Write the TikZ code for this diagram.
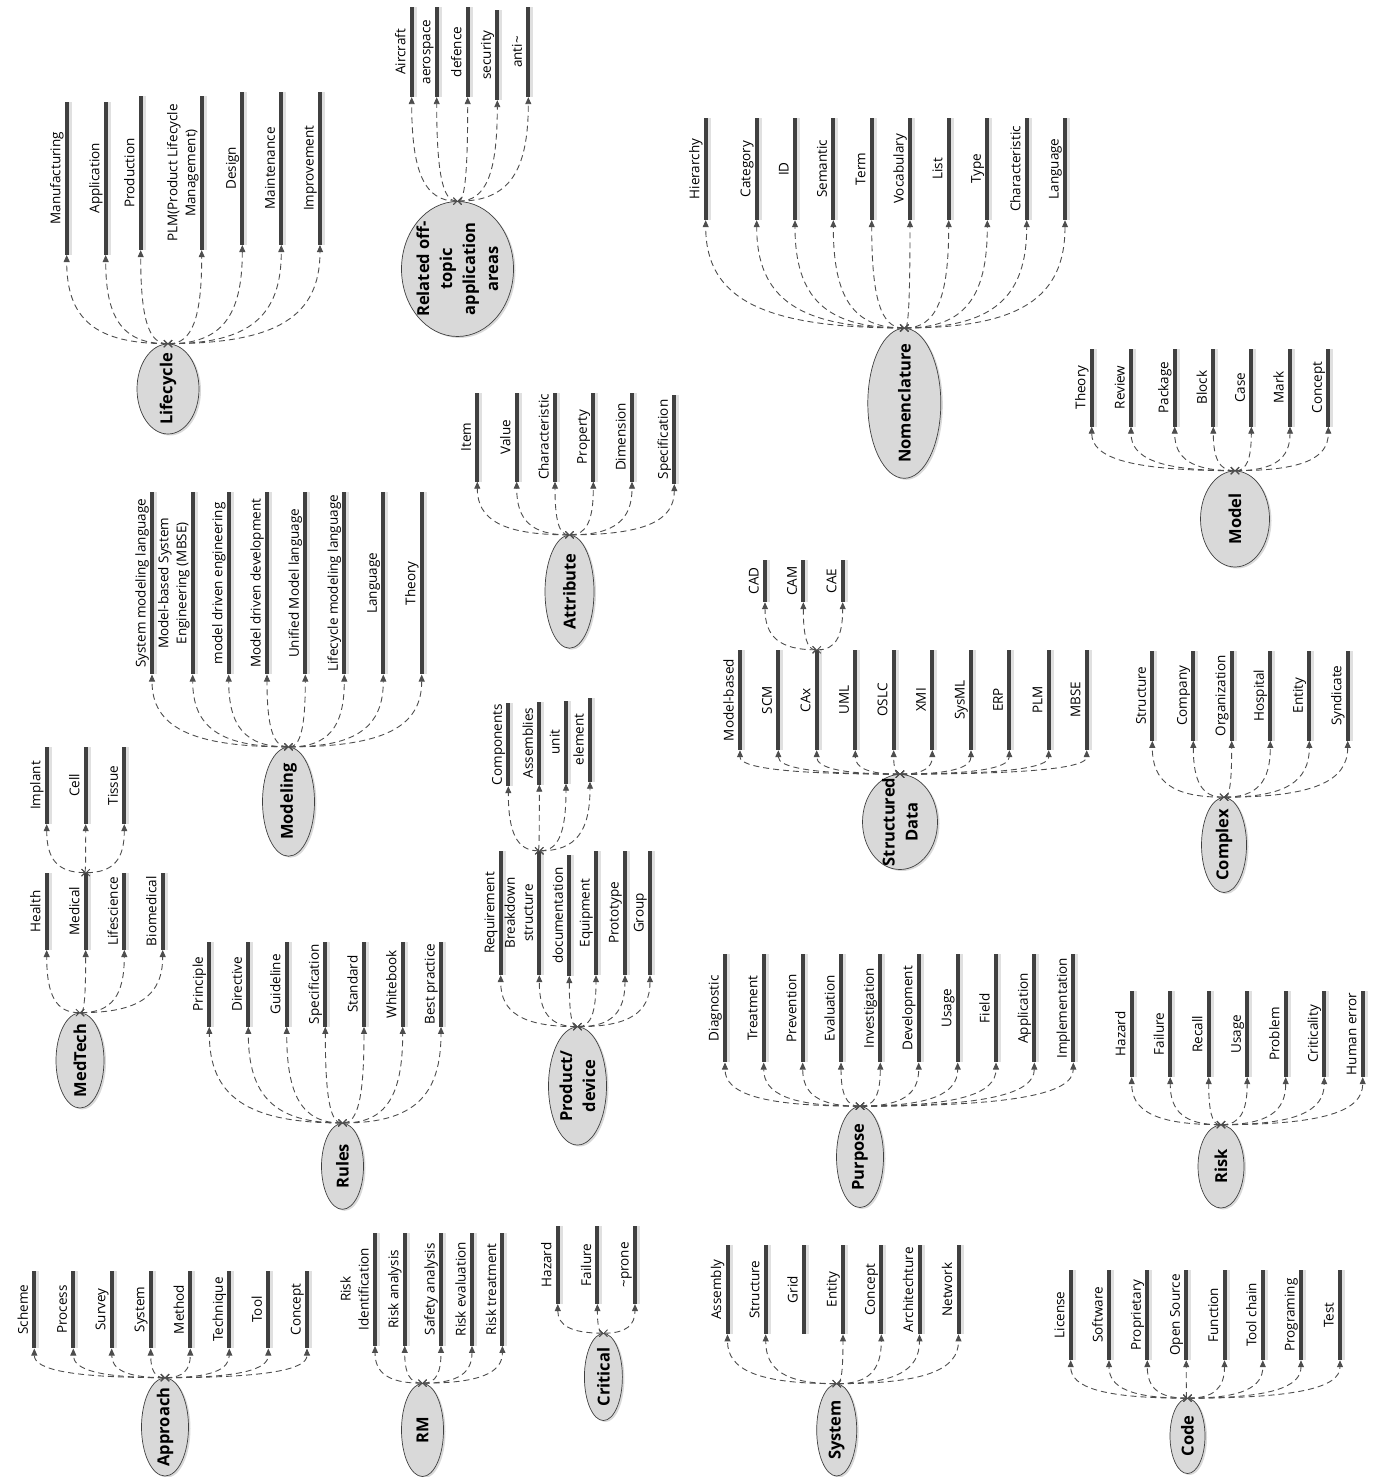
\documentclass[tikz,border=0pt]{standalone}
\usepackage{fontspec}
\setmainfont{Open Sans}
\usetikzlibrary{arrows.meta,shapes.geometric,shadows,calc}
\definecolor{barc}{HTML}{404040}
\definecolor{linec}{HTML}{4D4D4D}
\definecolor{hubfill}{HTML}{D9D9D9}
\tikzset{
  bar/.style={rectangle, fill=barc, minimum width=4pt, inner sep=0pt,
    general shadow={shadow xshift=3pt, fill=black!12}},
  lbl/.style={rotate=90, anchor=south, inner sep=1pt, text depth=3pt, align=center,
    font=\fontsize{13.5}{18}\selectfont},
  hub/.style={ellipse, draw=barc, line width=0.7pt, fill=hubfill, inner sep=0pt,
    general shadow={shadow xshift=2pt, shadow yshift=-1.5pt, fill=black!15}},
  hubtxt/.style={rotate=90, align=center, inner sep=0pt,
    font=\fontsize{16.5}{23}\selectfont\bfseries},
  conn/.style={draw=linec, line width=0.9pt, dash pattern=on 6pt off 4pt,
    {Straight Barb[length=3.5pt,width=7pt]}-{Triangle[length=7pt,width=6pt]}},
  fan/.style={to path={.. controls ($(\tikztostart)!.72!(\tikztostart -| \tikztotarget)$) and ($(\tikztotarget)!.72!(\tikztostart -| \tikztotarget)$) .. (\tikztotarget)}}
}
\begin{document}
\begin{tikzpicture}[x=1pt, y=-1pt]
\useasboundingbox (0,0) rectangle (1375,1477);
% Lifecycle
\node[hub, minimum width=62, minimum height=90, label={[hubtxt]center:Lifecycle}] (lc) at (168,389) {};
\node[bar, minimum height=153, label={[lbl]left:Manufacturing}] (lc-1) at (66.7,178.3) {};
\node[bar, minimum height=153, label={[lbl]left:Application}] (lc-2) at (105.7,178.3) {};
\node[bar, minimum height=154, label={[lbl]left:Production}] (lc-3) at (140.7,173) {};
\node[bar, minimum height=154, label={[lbl]left:{PLM(Product Lifecycle\\Management)}}] (lc-4) at (201.7,173) {};
\node[bar, minimum height=153, label={[lbl]left:Design}] (lc-5) at (242.3,168.3) {};
\node[bar, minimum height=153, label={[lbl]left:Maintenance}] (lc-6) at (281.3,168.3) {};
\node[bar, minimum height=153, label={[lbl]left:Improvement}] (lc-7) at (320,168.3) {};
\foreach \i in {1,...,7} \draw[conn] (lc.north) to[fan] (lc-\i.south);
% Related off-topic application areas
\node[hub, minimum width=112, minimum height=135, label={[hubtxt]center:{Related off-\\topic\\application\\areas}}] (ra) at (457.5,269) {};
\node[bar, minimum height=90, label={[lbl]left:Aircraft}] (ra-1) at (411.7,52) {};
\node[bar, minimum height=90, label={[lbl]left:aerospace}] (ra-2) at (436.7,52) {};
\node[bar, minimum height=90, label={[lbl]left:defence}] (ra-3) at (467.7,52) {};
\node[bar, minimum height=90, label={[lbl]left:security}] (ra-4) at (497.3,55) {};
\node[bar, minimum height=90, label={[lbl]left:anti\textasciitilde}] (ra-5) at (528.3,52) {};
\foreach \i in {1,...,5} \draw[conn] (ra.north) to[fan] (ra-\i.south);
% Nomenclature
\node[hub, minimum width=73, minimum height=150, label={[hubtxt]center:Nomenclature}] (nm) at (904.3,403.3) {};
\node[bar, minimum height=102, label={[lbl]left:Hierarchy}] (nm-1) at (705.7,169) {};
\node[bar, minimum height=102, label={[lbl]left:Category}] (nm-2) at (756.7,169) {};
\node[bar, minimum height=102, label={[lbl]left:ID}] (nm-3) at (795,169) {};
\node[bar, minimum height=102, label={[lbl]left:Semantic}] (nm-4) at (833.3,169) {};
\node[bar, minimum height=102, label={[lbl]left:Term}] (nm-5) at (871.7,169) {};
\node[bar, minimum height=102, label={[lbl]left:Vocabulary}] (nm-6) at (910,169) {};
\node[bar, minimum height=102, label={[lbl]left:List}] (nm-7) at (948.7,169) {};
\node[bar, minimum height=102, label={[lbl]left:Type}] (nm-8) at (987.3,169) {};
\node[bar, minimum height=102, label={[lbl]left:Characteristic}] (nm-9) at (1026.7,169) {};
\node[bar, minimum height=102, label={[lbl]left:Language}] (nm-10) at (1065,169) {};
\foreach \i in {1,...,10} \draw[conn] (nm.north) to[fan] (nm-\i.south);
% Model
\node[hub, minimum width=69, minimum height=96, label={[hubtxt]center:Model}] (mo) at (1235,519) {};
\node[bar, minimum height=78, label={[lbl]left:Theory}] (mo-1) at (1091.7,387.5) {};
\node[bar, minimum height=78, label={[lbl]left:Review}] (mo-2) at (1131,387.5) {};
\node[bar, minimum height=78, label={[lbl]left:Package}] (mo-3) at (1174.7,387.5) {};
\node[bar, minimum height=78, label={[lbl]left:Block}] (mo-4) at (1213.3,387.5) {};
\node[bar, minimum height=78, label={[lbl]left:Case}] (mo-5) at (1251.3,387.5) {};
\node[bar, minimum height=78, label={[lbl]left:Mark}] (mo-6) at (1290,387.5) {};
\node[bar, minimum height=78, label={[lbl]left:Concept}] (mo-7) at (1328.3,387.5) {};
\foreach \i in {1,...,7} \draw[conn] (mo.north) to[fan] (mo-\i.south);
% Attribute
\node[hub, minimum width=49, minimum height=113, label={[hubtxt]center:Attribute}] (at) at (569.5,591.7) {};
\node[bar, minimum height=89, label={[lbl]left:Item}] (at-1) at (477.3,437) {};
\node[bar, minimum height=89, label={[lbl]left:Value}] (at-2) at (516.7,437) {};
\node[bar, minimum height=89, label={[lbl]left:Characteristic}] (at-3) at (555,437) {};
\node[bar, minimum height=89, label={[lbl]left:Property}] (at-4) at (593.3,437) {};
\node[bar, minimum height=89, label={[lbl]left:Dimension}] (at-5) at (632,437) {};
\node[bar, minimum height=89, label={[lbl]left:Specification}] (at-6) at (674.3,439.5) {};
\foreach \i in {1,...,6} \draw[conn] (at.north) to[fan] (at-\i.south);
% Modeling
\node[hub, minimum width=52, minimum height=109, label={[hubtxt]center:Modeling}] (mg) at (288.5,801.7) {};
\node[bar, minimum height=182, label={[lbl]left:System modeling language}] (mg-1) at (152,583.3) {};
\node[bar, minimum height=182, label={[lbl]left:{Model-based System\\Engineering (MBSE)}}] (mg-2) at (192.7,583.3) {};
\node[bar, minimum height=182, label={[lbl]left:model driven engineering}] (mg-3) at (228.7,583.3) {};
\node[bar, minimum height=182, label={[lbl]left:Model driven development}] (mg-4) at (267,583.3) {};
\node[bar, minimum height=182, label={[lbl]left:Unified Model language}] (mg-5) at (305.3,583.3) {};
\node[bar, minimum height=182, label={[lbl]left:Lifecycle modeling language}] (mg-6) at (344.3,583.3) {};
\node[bar, minimum height=182, label={[lbl]left:Language}] (mg-7) at (383.3,583.3) {};
\node[bar, minimum height=182, label={[lbl]left:Theory}] (mg-8) at (421.7,583.3) {};
\foreach \i in {1,...,8} \draw[conn] (mg.north) to[fan] (mg-\i.south);
% MedTech
\node[hub, minimum width=48, minimum height=95, label={[hubtxt]center:MedTech}] (md) at (80,1060.5) {};
\node[bar, minimum height=77, label={[lbl]left:Health}] (md-1) at (46.7,911.3) {};
\node[bar, minimum height=77, label={[lbl]left:Medical}] (md-2) at (85.7,911.3) {};
\node[bar, minimum height=77, label={[lbl]left:Lifescience}] (md-3) at (124.3,911.3) {};
\node[bar, minimum height=77, label={[lbl]left:Biomedical}] (md-4) at (162.7,911.3) {};
\foreach \i in {1,...,4} \draw[conn] (md.north) to[fan] (md-\i.south);
\node[bar, minimum height=77, label={[lbl]left:Implant}] (mi-1) at (46.7,785.5) {};
\node[bar, minimum height=77, label={[lbl]left:Cell}] (mi-2) at (85.7,785.5) {};
\node[bar, minimum height=77, label={[lbl]left:Tissue}] (mi-3) at (124.3,785.5) {};
\foreach \i in {1,...,3} \draw[conn] (md-2.north) to[fan] (mi-\i.south);
% Rules
\node[hub, minimum width=42, minimum height=86, label={[hubtxt]center:Rules}] (ru) at (342.5,1166.3) {};
\node[bar, minimum height=85, label={[lbl]left:Principle}] (ru-1) at (209.3,984.2) {};
\node[bar, minimum height=85, label={[lbl]left:Directive}] (ru-2) at (248.3,984.2) {};
\node[bar, minimum height=85, label={[lbl]left:Guideline}] (ru-3) at (286.7,984.2) {};
\node[bar, minimum height=85, label={[lbl]left:Specification}] (ru-4) at (325.3,984.2) {};
\node[bar, minimum height=85, label={[lbl]left:Standard}] (ru-5) at (364,984.2) {};
\node[bar, minimum height=85, label={[lbl]left:Whitebook}] (ru-6) at (402.7,984.2) {};
\node[bar, minimum height=85, label={[lbl]left:Best practice}] (ru-7) at (441,984.2) {};
\foreach \i in {1,...,7} \draw[conn] (ru.north) to[fan] (ru-\i.south);
% Product/device
\node[hub, minimum width=58, minimum height=118, label={[hubtxt]center:{Product/\\device}}] (pd) at (577.5,1086) {};
\node[bar, minimum height=124, label={[lbl]left:Requirement}] (pd-1) at (500.7,913) {};
\node[bar, minimum height=124, label={[lbl]left:{Breakdown\\structure}}] (pd-2) at (539.3,913) {};
\node[bar, minimum height=121, label={[lbl]left:documentation}] (pd-3) at (569.3,915.5) {};
\node[bar, minimum height=124, label={[lbl]left:Equipment}] (pd-4) at (596,913) {};
\node[bar, minimum height=124, label={[lbl]left:Prototype}] (pd-5) at (625,913) {};
\node[bar, minimum height=124, label={[lbl]left:Group}] (pd-6) at (650,913) {};
\foreach \i in {1,...,6} \draw[conn] (pd.north) to[fan] (pd-\i.south);
\node[bar, minimum height=83, label={[lbl]left:Components}] (pc-1) at (508.3,744.5) {};
\node[bar, minimum height=83, label={[lbl]left:Assemblies}] (pc-2) at (539.3,743) {};
\node[bar, minimum height=83, label={[lbl]left:unit}] (pc-3) at (566,742) {};
\node[bar, minimum height=84, label={[lbl]left:element}] (pc-4) at (590,739.5) {};
\foreach \i in {1,...,4} \draw[conn] (pd-2.north) to[fan] (pc-\i.south);
% Structured Data
\node[hub, minimum width=75, minimum height=95, label={[hubtxt]center:{Structured\\Data}}] (sd) at (900,822) {};
\node[bar, minimum height=100, label={[lbl]left:Model-based}] (sd-1) at (740,700) {};
\node[bar, minimum height=100, label={[lbl]left:SCM}] (sd-2) at (778.3,700) {};
\node[bar, minimum height=100, label={[lbl]left:CAx}] (sd-3) at (816.7,700) {};
\node[bar, minimum height=100, label={[lbl]left:UML}] (sd-4) at (855.3,700) {};
\node[bar, minimum height=100, label={[lbl]left:OSLC}] (sd-5) at (893.7,700) {};
\node[bar, minimum height=100, label={[lbl]left:XMI}] (sd-6) at (932.3,700) {};
\node[bar, minimum height=100, label={[lbl]left:SysML}] (sd-7) at (971,700) {};
\node[bar, minimum height=100, label={[lbl]left:ERP}] (sd-8) at (1009.3,700) {};
\node[bar, minimum height=100, label={[lbl]left:PLM}] (sd-9) at (1048.7,700) {};
\node[bar, minimum height=100, label={[lbl]left:MBSE}] (sd-10) at (1086.7,700) {};
\foreach \i in {1,...,10} \draw[conn] (sd.north) to[fan] (sd-\i.south);
\node[bar, minimum height=42, label={[lbl]left:CAD}] (ca-1) at (765,581) {};
\node[bar, minimum height=42, label={[lbl]left:CAM}] (ca-2) at (803.3,581) {};
\node[bar, minimum height=42, label={[lbl]left:CAE}] (ca-3) at (842.7,581) {};
\foreach \i in {1,...,3} \draw[conn] (sd-3.north) to[fan] (ca-\i.south);
% Complex
\node[hub, minimum width=45, minimum height=95, label={[hubtxt]center:Complex}] (cx) at (1224,845) {};
\node[bar, minimum height=90, label={[lbl]left:Structure}] (cx-1) at (1152.3,695.7) {};
\node[bar, minimum height=90, label={[lbl]left:Company}] (cx-2) at (1193.3,695.7) {};
\node[bar, minimum height=90, label={[lbl]left:Organization}] (cx-3) at (1231.7,695.7) {};
\node[bar, minimum height=90, label={[lbl]left:Hospital}] (cx-4) at (1270.3,695.7) {};
\node[bar, minimum height=90, label={[lbl]left:Entity}] (cx-5) at (1309.3,695.7) {};
\node[bar, minimum height=90, label={[lbl]left:Syndicate}] (cx-6) at (1347.7,695.7) {};
\foreach \i in {1,...,6} \draw[conn] (cx.north) to[fan] (cx-\i.south);
% Purpose
\node[hub, minimum width=47, minimum height=101, label={[hubtxt]center:Purpose}] (pu) at (860,1157) {};
\node[bar, minimum height=108, label={[lbl]left:Diagnostic}] (pu-1) at (725,1008.3) {};
\node[bar, minimum height=108, label={[lbl]left:Treatment}] (pu-2) at (763.7,1008.3) {};
\node[bar, minimum height=108, label={[lbl]left:Prevention}] (pu-3) at (802.7,1008.3) {};
\node[bar, minimum height=108, label={[lbl]left:Evaluation}] (pu-4) at (841,1008.3) {};
\node[bar, minimum height=108, label={[lbl]left:Investigation}] (pu-5) at (880.3,1008.3) {};
\node[bar, minimum height=108, label={[lbl]left:Development}] (pu-6) at (918.7,1008.3) {};
\node[bar, minimum height=108, label={[lbl]left:Usage}] (pu-7) at (957.7,1008.3) {};
\node[bar, minimum height=108, label={[lbl]left:Field}] (pu-8) at (996,1008.3) {};
\node[bar, minimum height=108, label={[lbl]left:Application}] (pu-9) at (1034.3,1008.3) {};
\node[bar, minimum height=108, label={[lbl]left:Implementation}] (pu-10) at (1073.3,1008.3) {};
\foreach \i in {1,...,10} \draw[conn] (pu.north) to[fan] (pu-\i.south);
% Risk
\node[hub, minimum width=46, minimum height=83, label={[hubtxt]center:Risk}] (ri) at (1221,1166.5) {};
\node[bar, minimum height=86, label={[lbl]left:Hazard}] (ri-1) at (1131.7,1034) {};
\node[bar, minimum height=86, label={[lbl]left:Failure}] (ri-2) at (1170.2,1034) {};
\node[bar, minimum height=86, label={[lbl]left:Recall}] (ri-3) at (1208.7,1034) {};
\node[bar, minimum height=86, label={[lbl]left:Usage}] (ri-4) at (1247.2,1034) {};
\node[bar, minimum height=86, label={[lbl]left:Problem}] (ri-5) at (1285.7,1034) {};
\node[bar, minimum height=86, label={[lbl]left:Criticality}] (ri-6) at (1324.2,1034) {};
\node[bar, minimum height=86, label={[lbl]left:Human error}] (ri-7) at (1362.7,1034) {};
\foreach \i in {1,...,7} \draw[conn] (ri.north) to[fan] (ri-\i.south);
% Approach
\node[hub, minimum width=47, minimum height=98, label={[hubtxt]center:Approach}] (ap) at (165,1427) {};
\node[bar, minimum height=77.6, label={[lbl]left:Scheme}] (ap-1) at (34.3,1309.5) {};
\node[bar, minimum height=77.6, label={[lbl]left:Process}] (ap-2) at (73.3,1309.5) {};
\node[bar, minimum height=77.6, label={[lbl]left:Survey}] (ap-3) at (111.7,1309.5) {};
\node[bar, minimum height=77.6, label={[lbl]left:System}] (ap-4) at (150.7,1309.5) {};
\node[bar, minimum height=77.6, label={[lbl]left:Method}] (ap-5) at (190.3,1309.5) {};
\node[bar, minimum height=77.6, label={[lbl]left:Technique}] (ap-6) at (229.3,1309.5) {};
\node[bar, minimum height=77.6, label={[lbl]left:Tool}] (ap-7) at (268.3,1309.5) {};
\node[bar, minimum height=77.6, label={[lbl]left:Concept}] (ap-8) at (307,1309.5) {};
\foreach \i in {1,...,8} \draw[conn] (ap.north) to[fan] (ap-\i.south);
% RM
\node[hub, minimum width=42, minimum height=93, label={[hubtxt]center:RM}] (rm) at (422.5,1430) {};
\node[bar, minimum height=113, label={[lbl]left:{Risk\\Identification}}] (rm-1) at (375,1289.2) {};
\node[bar, minimum height=113, label={[lbl]left:Risk analysis}] (rm-2) at (404.7,1289.2) {};
\node[bar, minimum height=113, label={[lbl]left:Safety analysis}] (rm-3) at (441,1289.2) {};
\node[bar, minimum height=113, label={[lbl]left:Risk evaluation}] (rm-4) at (472,1289.2) {};
\node[bar, minimum height=113, label={[lbl]left:Risk treatment}] (rm-5) at (502.4,1289.2) {};
\foreach \i in {1,...,5} \draw[conn] (rm.north) to[fan] (rm-\i.south);
% Critical
\node[hub, minimum width=38, minimum height=87, label={[hubtxt]center:Critical}] (cr) at (603.4,1377) {};
\node[bar, minimum height=78, label={[lbl]left:Hazard}] (cr-1) at (557.8,1264.9) {};
\node[bar, minimum height=78, label={[lbl]left:Failure}] (cr-2) at (597.4,1264.9) {};
\node[bar, minimum height=78, label={[lbl]left:\textasciitilde prone}] (cr-3) at (635,1264.9) {};
\foreach \i in {1,...,3} \draw[conn] (cr.north) to[fan] (cr-\i.south);
% System
\node[hub, minimum width=40, minimum height=92, label={[hubtxt]center:System}] (sy) at (836.7,1430) {};
\node[bar, minimum height=89, label={[lbl]left:Assembly}] (sy-1) at (727.5,1289.7) {};
\node[bar, minimum height=89, label={[lbl]left:Structure}] (sy-2) at (765.7,1289.7) {};
\node[bar, minimum height=89, label={[lbl]left:Grid}] (sy-3) at (804,1289.7) {};
\node[bar, minimum height=89, label={[lbl]left:Entity}] (sy-4) at (843,1289.7) {};
\node[bar, minimum height=89, label={[lbl]left:Concept}] (sy-5) at (881.3,1289.7) {};
\node[bar, minimum height=89, label={[lbl]left:Architechture}] (sy-6) at (919.5,1289.7) {};
\node[bar, minimum height=89, label={[lbl]left:Network}] (sy-7) at (958.5,1289.7) {};
\foreach \i in {1,2,4,5,6,7} \draw[conn] (sy.north) to[fan] (sy-\i.south);
% Code
\node[hub, minimum width=35, minimum height=75, label={[hubtxt]center:Code}] (co) at (1187.5,1436) {};
\node[bar, minimum height=90, label={[lbl]left:License}] (co-1) at (1070.7,1315) {};
\node[bar, minimum height=90, label={[lbl]left:Software}] (co-2) at (1109,1315) {};
\node[bar, minimum height=90, label={[lbl]left:Proprietary}] (co-3) at (1147.3,1315) {};
\node[bar, minimum height=90, label={[lbl]left:Open Source}] (co-4) at (1186.2,1315) {};
\node[bar, minimum height=90, label={[lbl]left:Function}] (co-5) at (1224.5,1315) {};
\node[bar, minimum height=90, label={[lbl]left:Tool chain}] (co-6) at (1262.8,1315) {};
\node[bar, minimum height=90, label={[lbl]left:Programing}] (co-7) at (1301,1315) {};
\node[bar, minimum height=90, label={[lbl]left:Test}] (co-8) at (1340,1315) {};
\foreach \i in {1,...,8} \draw[conn] (co.north) to[fan] (co-\i.south);
\end{tikzpicture}
\end{document}
